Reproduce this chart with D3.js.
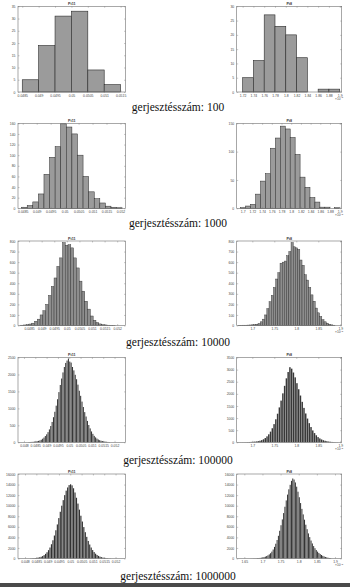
<!DOCTYPE html>
<html>
<head>
<meta charset="utf-8">
<script src="https://cdn.jsdelivr.net/npm/d3@7"></script>
<style>
  body { margin: 0; background: #fff; }
  svg { display: block; }
</style>
</head>
<body>
<script>
// --- data ---
const runs = [100, 1000, 10000, 100000, 1000000];
const captionText = 'gerjesztésszám: ';
const titles = ['Pt11', 'Pt8'];

// Pt11 histograms (left column)
const pt11Counts = [
  [5, 19, 31, 33, 9, 3],
  [2, 5, 12, 27, 64, 96, 116, 159, 153, 140, 100, 60, 31, 18, 10, 4, 2, 1],
  [3, 5, 8, 14, 22, 40, 60, 100, 140, 200, 285, 370, 450, 560, 640, 785, 760, 765, 735, 640,
   545, 420, 325, 230, 155, 90, 50, 28, 15, 8, 5, 3, 2, 1],
  [8, 10, 12, 15, 20, 26, 33, 42, 55, 75, 105, 140, 185, 235, 300, 380, 480, 600, 740, 900,
   1080, 1270, 1480, 1690, 1880, 2060, 2220, 2340, 2410, 2470, 2380, 2350, 2220, 2120, 1990, 1860, 1700, 1520, 1370, 1200,
   1040, 890, 760, 630, 510, 410, 320, 250, 190, 145, 110, 82, 62, 47, 36, 27, 20, 15, 11, 8],
  [30, 42, 60, 85, 120, 170, 240, 330, 460, 640, 880, 1180, 1580, 2080, 2700, 3450, 4350, 5350, 6450, 7650,
   8850, 10000, 11050, 12000, 12850, 13450, 13900, 14050, 13850, 13300, 12500, 11500, 10400, 9250, 8100, 7000, 5950, 4980, 4100, 3320,
   2650, 2080, 1600, 1220, 910, 670, 490, 350, 250, 175, 120, 82, 55, 36, 22]
];
const pt11BinStart = [0.0485, 0.04846, 0.04816, 0.0482, 0.048233];
const pt11BinWidth = [0.0005, 0.0002, 0.000111, 0.00006, 0.000065];
const pt11XDomain = [[0.04837, 0.05165], [0.04833, 0.05218], [0.04806, 0.05233], [0.047736, 0.052484], [0.04769, 0.05244]];
const pt11XTicks = [
  [0.0485, 0.049, 0.0495, 0.05, 0.0505, 0.051, 0.0515],
  [0.0485, 0.049, 0.0495, 0.05, 0.0505, 0.051, 0.0515, 0.052],
  [0.0485, 0.049, 0.0495, 0.05, 0.0505, 0.051, 0.0515, 0.052],
  [0.048, 0.0485, 0.049, 0.0495, 0.05, 0.0505, 0.051, 0.0515, 0.052],
  [0.048, 0.0485, 0.049, 0.0495, 0.05, 0.0505, 0.051, 0.0515, 0.052]
];
const pt11YTicks = [
  [0, 5, 10, 15, 20, 25, 30, 35],
  [0, 20, 40, 60, 80, 100, 120, 140, 160],
  [0, 100, 200, 300, 400, 500, 600, 700, 800],
  [0, 500, 1000, 1500, 2000, 2500],
  [0, 2000, 4000, 6000, 8000, 10000, 12000, 14000, 16000]
];

// Pt8 histograms (right column, x in units of 1e-3)
const pt8Counts = [
  [5, 11, 27, 23, 20, 12, 0, 1, 1],
  [1, 4, 7, 25, 48, 61, 106, 124, 145, 140, 125, 95, 55, 37, 19, 11, 2, 2, 0, 1],
  [2, 2, 3, 3, 4, 5, 6, 8, 12, 18, 35, 60, 100, 160, 225, 285, 360, 440, 500, 590,
   600, 610, 660, 700, 785, 745, 735, 720, 620, 570, 480, 430, 360, 290, 230, 165, 120, 85, 55, 35,
   22, 12, 6, 3],
  [2, 2, 3, 3, 4, 5, 6, 8, 10, 13, 17, 22, 28, 36, 48, 65, 90, 125, 175, 245,
   330, 440, 580, 750, 950, 1180, 1440, 1720, 2020, 2330, 2640, 2900, 3100, 3040, 2880, 2680, 2440, 2190, 1930, 1670,
   1420, 1190, 980, 790, 630, 490, 380, 290, 215, 160, 118, 86, 62, 44, 31, 22, 15, 10, 6, 4],
  [15, 20, 28, 38, 50, 66, 88, 115, 150, 200, 265, 350, 460, 600, 780, 1000, 1300, 1700, 2200, 2800,
   3500, 4300, 5250, 6300, 7400, 8600, 9800, 11000, 12100, 13100, 13950, 14700, 15150, 14950, 14400, 13600, 12650, 11600, 10500, 9400,
   8350, 7350, 6400, 5550, 4750, 4050, 3400, 2850, 2350, 1950, 1600, 1300, 1050, 840, 660, 510, 390, 290, 210, 150,
   100, 65]
];
const pt8BinStart = [1.72, 1.6959, 1.668, 1.6558, 1.667];
const pt8BinWidth = [0.02, 0.0102, 0.005, 0.004, 0.0036];
const pt8XDomain = [[1.709, 1.9037], [1.6876, 1.9041], [1.6645, 1.9032], [1.6645, 1.9032], [1.629, 1.9185]];
const pt8XTicks = [
  [1.72, 1.74, 1.76, 1.78, 1.8, 1.82, 1.84, 1.86, 1.88, 1.9],
  [1.7, 1.72, 1.74, 1.76, 1.78, 1.8, 1.82, 1.84, 1.86, 1.88, 1.9],
  [1.7, 1.75, 1.8, 1.85, 1.9],
  [1.7, 1.75, 1.8, 1.85, 1.9],
  [1.65, 1.7, 1.75, 1.8, 1.85, 1.9]
];
const pt8YTicks = [
  [0, 5, 10, 15, 20, 25, 30],
  [0, 50, 100, 150],
  [0, 100, 200, 300, 400, 500, 600, 700, 800],
  [0, 500, 1000, 1500, 2000, 2500, 3000, 3500],
  [0, 2000, 4000, 6000, 8000, 10000, 12000, 14000, 16000]
];

// --- layout ---
const W = 350, H = 587;
const colX = [[18, 125.5], [236.7, 341.7]];
const rowY = [[6.3, 92], [123.3, 208.3], [241, 325.5], [357.5, 442.3], [474, 558.5]];
const captionY = [111, 227, 346, 464, 580];
const barStyle = [
  { fill: '#9b9b9b', stroke: '#2a2a2a', sw: 0.6, gap: 0 },
  { fill: '#9b9b9b', stroke: '#2a2a2a', sw: 0.5, gap: 0 },
  { fill: '#8d8d8d', stroke: '#2a2a2a', sw: 0.4, gap: 0 },
  { fill: '#383838', stroke: 'none', sw: 0, gap: 0.3 },
  { fill: '#323232', stroke: 'none', sw: 0, gap: 0.3 }
];

const svg = d3.select('body').append('svg')
  .attr('width', W)
  .attr('height', H);

svg.append('rect').attr('width', W).attr('height', H).attr('fill', '#fff');

function drawPanel(row, col) {
  const isPt8 = col === 1;
  const counts = (isPt8 ? pt8Counts : pt11Counts)[row];
  const start = (isPt8 ? pt8BinStart : pt11BinStart)[row];
  const width = (isPt8 ? pt8BinWidth : pt11BinWidth)[row];
  const xDom = (isPt8 ? pt8XDomain : pt11XDomain)[row];
  const xTicks = (isPt8 ? pt8XTicks : pt11XTicks)[row];
  const yTicks = (isPt8 ? pt8YTicks : pt11YTicks)[row];
  const [x0, x1] = colX[col];
  const [y0, y1] = rowY[row];
  const st = barStyle[row];

  const x = d3.scaleLinear().domain(xDom).range([x0, x1]);
  const y = d3.scaleLinear().domain([0, d3.max(yTicks)]).range([y1, y0]);

  const g = svg.append('g');

  // bars
  g.append('g').selectAll('rect')
    .data(counts)
    .join('rect')
    .attr('x', (d, i) => x(start + i * width))
    .attr('width', (d, i) => Math.max(0.2, x(start + (i + 1) * width) - x(start + i * width) - st.gap))
    .attr('y', d => y(d))
    .attr('height', d => y(0) - y(d))
    .attr('fill', st.fill)
    .attr('stroke', st.stroke)
    .attr('stroke-width', st.sw);

  // axes, ticks pointing inward (matlab style)
  const fmt = d => String(d);
  const styleAxis = sel => {
    sel.select('.domain').remove();
    sel.selectAll('.tick line').attr('stroke', '#777').attr('stroke-width', 0.4);
    sel.selectAll('.tick text')
      .attr('fill', '#444')
      .style('font-family', 'Liberation Sans, Arial, sans-serif')
      .style('font-size', '3.4px');
  };

  g.append('g').attr('transform', `translate(0,${y1})`)
    .call(d3.axisBottom(x).tickValues(xTicks).tickFormat(fmt).tickSizeInner(-1.5).tickSizeOuter(0).tickPadding(2.2))
    .call(styleAxis);
  g.append('g').attr('transform', `translate(0,${y0})`)
    .call(d3.axisTop(x).tickValues(xTicks).tickFormat('').tickSizeInner(-1.5).tickSizeOuter(0))
    .call(styleAxis);
  g.append('g').attr('transform', `translate(${x0},0)`)
    .call(d3.axisLeft(y).tickValues(yTicks).tickFormat(fmt).tickSizeInner(-1.5).tickSizeOuter(0).tickPadding(2.5))
    .call(styleAxis);
  g.append('g').attr('transform', `translate(${x1},0)`)
    .call(d3.axisRight(y).tickValues(yTicks).tickFormat('').tickSizeInner(-1.5).tickSizeOuter(0))
    .call(styleAxis);

  // box
  g.append('rect')
    .attr('x', x0).attr('y', y0)
    .attr('width', x1 - x0).attr('height', y1 - y0)
    .attr('fill', 'none')
    .attr('stroke', '#6e6e6e')
    .attr('stroke-width', 0.6);

  // title
  g.append('text')
    .attr('x', (x0 + x1) / 2).attr('y', y0 - 1.3)
    .attr('text-anchor', 'middle')
    .style('font-family', 'Liberation Sans, Arial, sans-serif')
    .style('font-size', '3.6px')
    .style('font-weight', 'bold')
    .attr('fill', '#333')
    .text(titles[col]);

  // exponent label
  if (isPt8) {
    const t = g.append('text')
      .attr('x', x1 + 1.5).attr('y', y1 + 7.5)
      .attr('text-anchor', 'end')
      .style('font-family', 'Liberation Sans, Arial, sans-serif')
      .style('font-size', '3.2px')
      .attr('fill', '#444');
    t.append('tspan').text('×10');
    t.append('tspan').attr('dy', -1.2).style('font-size', '2.4px').text('−3');
  }
}

runs.forEach((n, row) => {
  drawPanel(row, 0);
  drawPanel(row, 1);
  svg.append('text')
    .attr('x', 178).attr('y', captionY[row])
    .attr('text-anchor', 'middle')
    .style('font-family', 'Liberation Serif, Times New Roman, serif')
    .style('font-size', '11.5px')
    .attr('fill', '#111')
    .text(captionText + n);
});

// dark strip along the bottom edge of the scan
svg.append('rect')
  .attr('x', 0).attr('y', 583)
  .attr('width', W).attr('height', 4)
  .attr('fill', '#4a4a4a');
</script>
</body>
</html>
